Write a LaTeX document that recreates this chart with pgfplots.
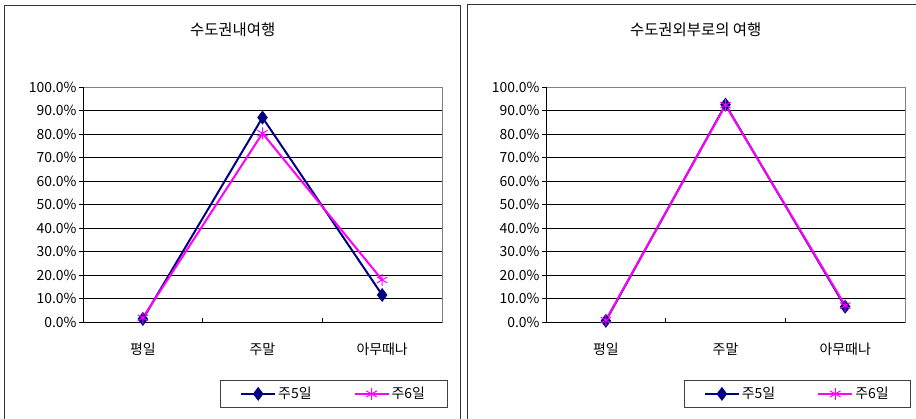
\documentclass[border=0pt]{standalone}
\usepackage{fontspec}
\setmainfont{Noto Sans CJK KR}
\usepackage{pgfplots}
\pgfplotsset{compat=1.18}
\definecolor{navy}{RGB}{0,0,128}
\definecolor{mag}{RGB}{255,0,255}

\pgfplotsset{
  trip/.style={
    width=359bp, height=235bp, scale only axis,
    xmin=-0.5, xmax=2.5, ymin=0, ymax=100,
    xtick={0,1,2}, xticklabels={평일,주말,아무때나},
    major x tick style={draw=none},
    extra x ticks={0.5,1.5}, extra x tick labels={},
    extra x tick style={tick align=inside, major x tick style={draw=black, line width=0.8bp}},
    ytick={0,10,...,90},
    yticklabels={0.0\%,10.0\%,20.0\%,30.0\%,40.0\%,50.0\%,60.0\%,70.0\%,80.0\%,90.0\%},
    extra y ticks={100}, extra y tick labels={100.0\%},
    extra y tick style={grid=none},
    ymajorgrids, grid style={black, line width=0.8bp},
    tick align=outside, xtick pos=lower, ytick pos=left,
    major tick length=4bp,
    major y tick style={black, line width=0.8bp},
    axis line style={gray, line width=0.8bp},
    ticklabel style={font=\fontsize{14}{14}\selectfont},
    yticklabel style={xshift=1bp},
    xticklabel style={font=\fontsize{14}{14}\selectfont, yshift=-13bp},
    title style={at={(0.417,1.217)}, anchor=center, font=\fontsize{15.5}{16}\selectfont},
    legend columns=2,
    legend style={at={(0.698,-0.306)}, anchor=center, draw=black!75,
      font=\fontsize{14}{14}\selectfont, inner xsep=20bp, inner ysep=5bp,
      /tikz/every even column/.append style={column sep=40bp}},
    legend image code/.code={\draw[mark repeat=2,mark phase=2]
      plot coordinates {(0bp,0bp)(17bp,0bp)(34bp,0bp)};},
    clip=false,
  },
  s5/.style={navy, line width=2bp, mark=diamond*, mark size=6.5bp,
    mark options={solid, line width=0.6bp, fill=navy}},
  s6/.style={mag, line width=2bp, mark=asterisk, mark size=6bp,
    mark options={solid, line width=1bp}},
}

\begin{document}
\begin{tikzpicture}
\useasboundingbox (0,0) rectangle (916bp,419bp);
\fill[white] (0,0) rectangle (916bp,419bp);
\draw[black!80, line width=0.9bp] (4bp,-10bp) |- (460bp,414bp) -- (460bp,-10bp);
\draw[black!80, line width=0.9bp] (467bp,-10bp) |- (930bp,415bp);

\begin{axis}[trip, at={(83bp,97bp)}, anchor=south west, title={수도권내여행}]
\addplot+[s5] coordinates {(0,1.3) (1,87.0) (2,11.5)};
\addlegendentry{주5일}
\addplot+[s6] coordinates {(0,1.8) (1,80.3) (2,17.9)};
\addlegendentry{주6일}
\draw[black, line width=0.8bp] (rel axis cs:0,1) -- (rel axis cs:0,0) -- (rel axis cs:1,0);
\end{axis}

\begin{axis}[trip, at={(546bp,97bp)}, anchor=south west, title={수도권외부로의 여행},
  legend style={at={(0.7,-0.306)}}]
\addplot+[s5] coordinates {(0,0.5) (1,92.5) (2,6.5)};
\addlegendentry{주5일}
\addplot+[s6] coordinates {(0,0.8) (1,92.3) (2,7.0)};
\addlegendentry{주6일}
\draw[black, line width=0.8bp] (rel axis cs:0,1) -- (rel axis cs:0,0) -- (rel axis cs:1,0);
\end{axis}
\end{tikzpicture}
\end{document}
